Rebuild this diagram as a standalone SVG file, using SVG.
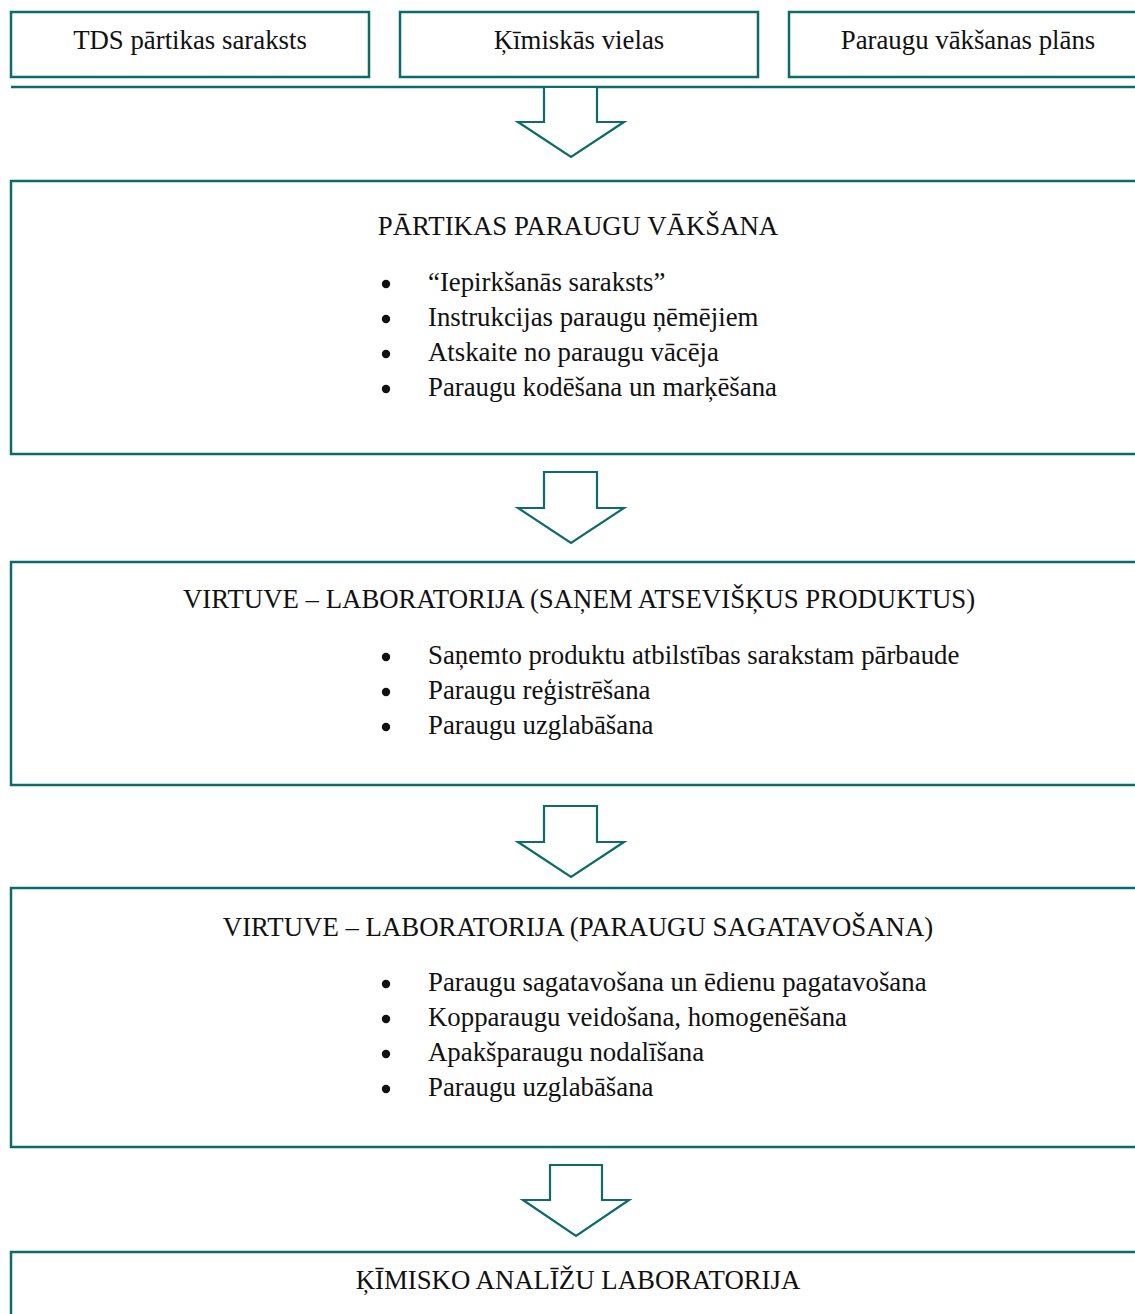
<svg xmlns="http://www.w3.org/2000/svg" width="1135" height="1314" viewBox="0 0 1135 1314">
<style>
.box{fill:#fff;stroke:#0e6b6b;stroke-width:2.5}
.arr{fill:#fff;stroke:#0e6b6b;stroke-width:2.2;stroke-linejoin:miter}
.ln{stroke:#0e6b6b;stroke-width:2.5}
text{font-family:"Liberation Serif","Times New Roman",serif;font-size:26.8px;fill:#111}
.c{text-anchor:middle}
.b{fill:#111}
</style>
<rect width="1135" height="1314" fill="#fff"/>
<g id="n1"><rect class="box" x="11" y="12" width="358" height="65"/><text class="c" x="190" y="49">TDS pārtikas saraksts</text></g>
<g id="n2"><rect class="box" x="400" y="12" width="358" height="65"/><text class="c" x="579" y="49">Ķīmiskās vielas</text></g>
<g id="n3"><rect class="box" x="789" y="12" width="360" height="65"/><text class="c" x="968" y="49">Paraugu vākšanas plāns</text></g>
<g id="connectors">
<line class="ln" x1="11" y1="87" x2="1135" y2="87"/>
<polygon class="arr" points="544,87 597,87 597,122 624,122 571,157 518,122 544,122"/>
<polygon class="arr" points="544,472 597,472 597,508 624,508 571,543 518,508 544,508"/>
<polygon class="arr" points="544,806 597,806 597,842 624,842 571,877 518,842 544,842"/>
<polygon class="arr" points="550,1165 602,1165 602,1200 629,1200 576,1236 523,1200 550,1200"/>
</g>
<g id="n4"><rect class="box" x="11" y="181" width="1140" height="273"/>
<text class="c" x="578" y="235">PĀRTIKAS PARAUGU VĀKŠANA</text>
<circle class="b" cx="386" cy="284" r="4.2"/><text x="428" y="291">“Iepirkšanās saraksts”</text>
<circle class="b" cx="386" cy="319" r="4.2"/><text x="428" y="326">Instrukcijas paraugu ņēmējiem</text>
<circle class="b" cx="386" cy="354" r="4.2"/><text x="428" y="361">Atskaite no paraugu vācēja</text>
<circle class="b" cx="386" cy="389" r="4.2"/><text x="428" y="396">Paraugu kodēšana un marķēšana</text>
</g>
<g id="n5"><rect class="box" x="11" y="562" width="1140" height="223"/>
<text class="c" x="579" y="608">VIRTUVE – LABORATORIJA (SAŅEM ATSEVIŠĶUS PRODUKTUS)</text>
<circle class="b" cx="386" cy="657" r="4.2"/><text x="428" y="664">Saņemto produktu atbilstības sarakstam pārbaude</text>
<circle class="b" cx="386" cy="692" r="4.2"/><text x="428" y="699">Paraugu reģistrēšana</text>
<circle class="b" cx="386" cy="727" r="4.2"/><text x="428" y="734">Paraugu uzglabāšana</text>
</g>
<g id="n6"><rect class="box" x="11" y="888" width="1140" height="259"/>
<text class="c" x="578" y="936">VIRTUVE – LABORATORIJA (PARAUGU SAGATAVOŠANA)</text>
<circle class="b" cx="386" cy="984" r="4.2"/><text x="428" y="991">Paraugu sagatavošana un ēdienu pagatavošana</text>
<circle class="b" cx="386" cy="1019" r="4.2"/><text x="428" y="1026">Kopparaugu veidošana, homogenēšana</text>
<circle class="b" cx="386" cy="1054" r="4.2"/><text x="428" y="1061">Apakšparaugu nodalīšana</text>
<circle class="b" cx="386" cy="1089" r="4.2"/><text x="428" y="1096">Paraugu uzglabāšana</text>
</g>
<g id="n7"><rect class="box" x="11" y="1252" width="1140" height="80"/>
<text class="c" x="578" y="1289">ĶĪMISKO ANALĪŽU LABORATORIJA</text>
</g>
</svg>
